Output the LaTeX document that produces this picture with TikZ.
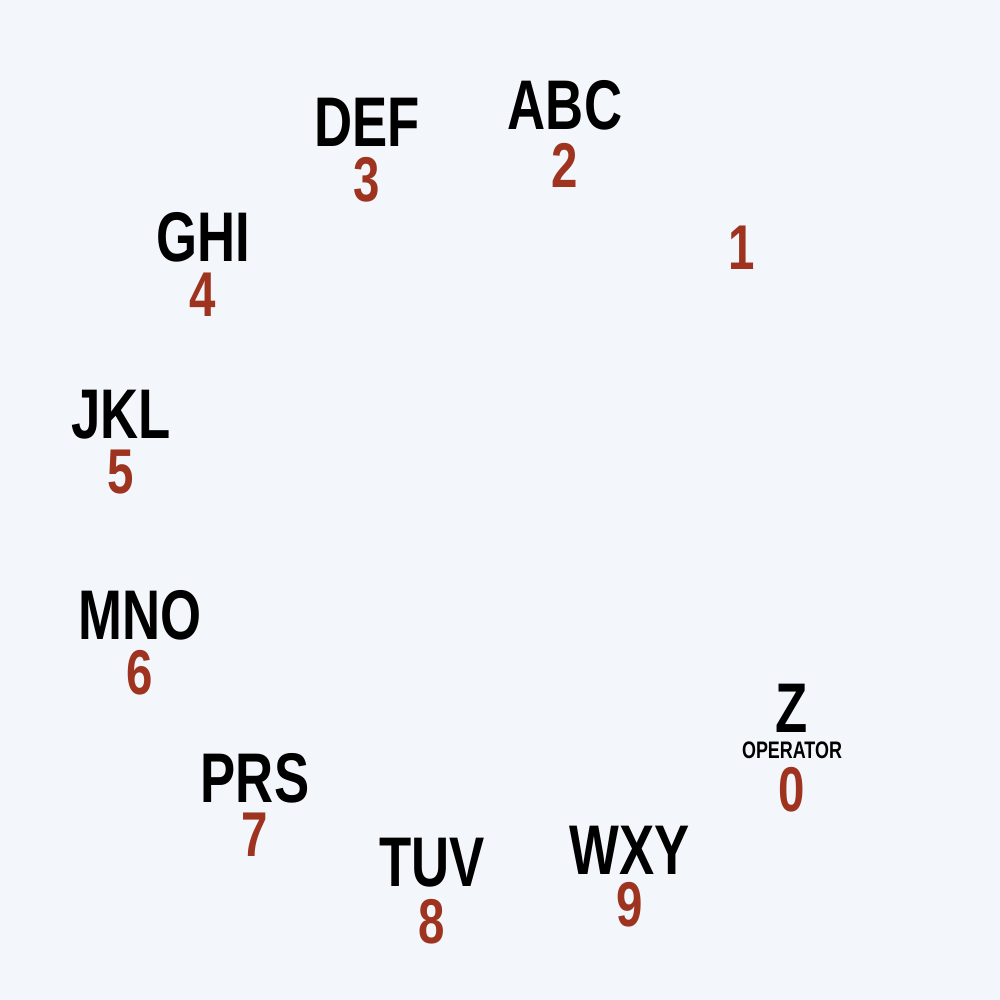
\documentclass[tikz,border=0pt]{standalone}
\usepackage{fontspec}
\setmainfont{Liberation Sans}
\definecolor{dialbg}{HTML}{F3F6FA}
\definecolor{dialred}{HTML}{9E3420}
\newcommand{\narrow}[1]{\scalebox{0.75}[1]{#1}}
\tikzset{
  letters/.style={inner sep=0pt,font=\fontsize{20}{20}\selectfont\bfseries},
  digit/.style={inner sep=0pt,text=dialred,font=\fontsize{18}{18}\selectfont\bfseries},
  smallnote/.style={inner sep=0pt,font=\fontsize{6.8}{6.8}\selectfont\bfseries}
}
\begin{document}
\begin{tikzpicture}[x=1cm,y=1cm]
\useasboundingbox[fill=dialbg] (0,0) rectangle (10,10);

\node[digit] (n1) at (7.42,7.52) {\narrow{1}};

\node[letters] (abc) at (5.65,8.95) {\narrow{ABC}};
\node[digit] (n2) at (5.65,8.35) {\narrow{2}};

\node[letters] (def) at (3.67,8.78) {\narrow{DEF}};
\node[digit] (n3) at (3.67,8.20) {\narrow{3}};

\node[letters] (ghi) at (2.03,7.63) {\narrow{GHI}};
\node[digit] (n4) at (2.03,7.05) {\narrow{4}};

\node[letters] (jkl) at (1.21,5.85) {\narrow{JKL}};
\node[digit] (n5) at (1.21,5.28) {\narrow{5}};

\node[letters] (mno) at (1.40,3.85) {\narrow{MNO}};
\node[digit] (n6) at (1.40,3.27) {\narrow{6}};

\node[letters] (prs) at (2.55,2.22) {\narrow{PRS}};
\node[digit] (n7) at (2.55,1.65) {\narrow{7}};

\node[letters] (tuv) at (4.32,1.37) {\narrow{TUV}};
\node[digit] (n8) at (4.32,0.78) {\narrow{8}};

\node[letters] (wxy) at (6.30,1.50) {\narrow{WXY}};
\node[digit] (n9) at (6.30,0.95) {\narrow{9}};

\node[letters] (z) at (7.92,2.92) {\narrow{Z}};
\node[smallnote] (oper) at (7.92,2.50) {\narrow{OPERATOR}};
\node[digit] (n0) at (7.92,2.10) {\narrow{0}};
\end{tikzpicture}
\end{document}
